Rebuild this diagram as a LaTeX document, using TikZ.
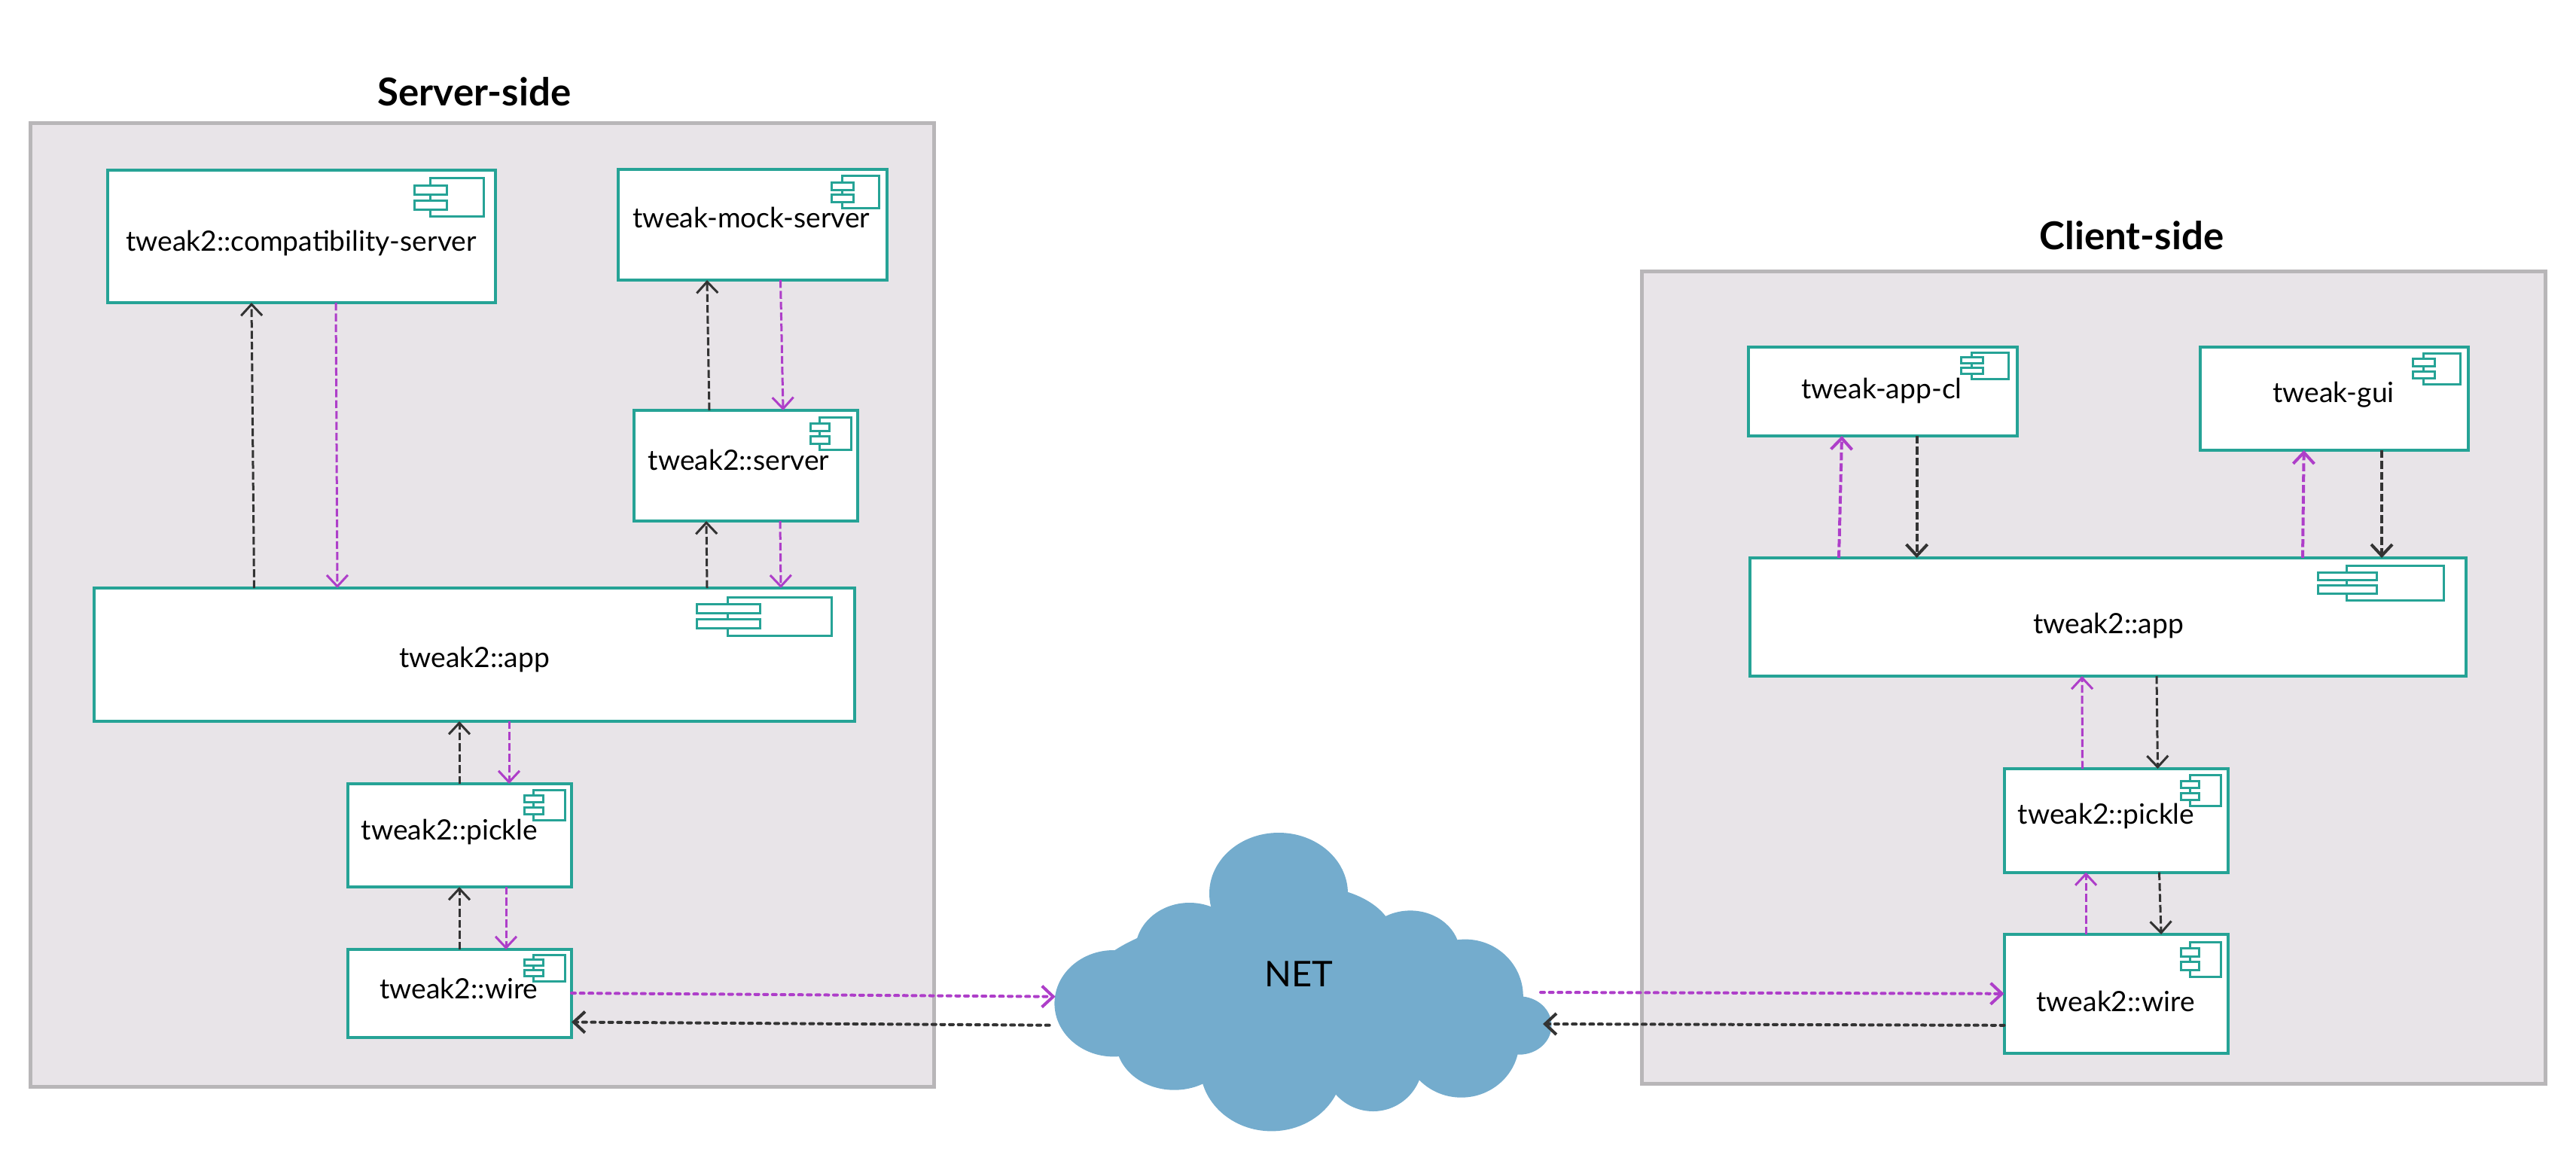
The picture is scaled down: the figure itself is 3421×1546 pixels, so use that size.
\documentclass[tikz,border=0pt]{standalone}
\usepackage{fontspec}
\setmainfont{Lato}
\usepackage{xcolor}
\definecolor{ColTeal}{RGB}{38,163,150}
\definecolor{ColPurple}{RGB}{174,62,201}
\definecolor{ColDark}{RGB}{51,51,51}
\definecolor{ColFrame}{RGB}{232,228,232}
\definecolor{ColBorder}{RGB}{184,182,184}
\definecolor{ColCloud}{RGB}{116,172,205}
\usetikzlibrary{arrows.meta}
\tikzstyle{Frame}=[rectangle,draw=ColBorder,fill=ColFrame,line width=2.5pt,outer sep=0pt]
\tikzstyle{Title}=[anchor=base,font=\fontsize{25.5}{30}\selectfont\bfseries]
\tikzstyle{CompBox}=[rectangle,draw=ColTeal,fill=white,line width=2pt,outer sep=0pt]
\tikzstyle{CompText}=[anchor=base,inner sep=0pt,font=\fontsize{18.6}{22}\selectfont]
\tikzstyle{NetText}=[anchor=base,inner sep=0pt,font=\fontsize{23.5}{28}\selectfont]
\tikzstyle{Edge}=[line width=1.5pt,dash pattern=on 5.2pt off 2pt,
    -{Straight Barb[length=7.5pt,width=14pt]}]
\tikzstyle{EdgeBlack}=[Edge,draw=ColDark]
\tikzstyle{EdgePurple}=[Edge,draw=ColPurple]
\tikzstyle{Link}=[line width=2pt,cap=round,dash pattern=on 2.5pt off 3.3pt,
    -{Straight Barb[length=7.5pt,width=14pt]}]
\tikzstyle{LinkBlack}=[Link,draw=ColDark]
\tikzstyle{LinkPurple}=[Link,draw=ColPurple]
\tikzset{CompIcon/.pic={
    \draw[ColTeal,line width=1.5pt](.23,0)rectangle(1,1);
    \draw[ColTeal,line width=1.5pt,fill=white](0,.19)rectangle(.47,.42);
    \draw[ColTeal,line width=1.5pt,fill=white](0,.58)rectangle(.47,.81);
}}
\begin{document}
\begin{tikzpicture}[x=.5pt,y=-.5pt]
    \useasboundingbox(0,0)rectangle(3421,1546);
    % server side
    \node[Frame,minimum width=600pt,minimum height=639.5pt](ServerFrame)at(640,803.5){};
    \node[Title](ServerTitle)at(630,141){Server-side};
    \node[CompBox,minimum width=257.25pt,minimum height=88.2pt](Compat)at(400.25,313.8){};
    \node[CompBox,minimum width=178.5pt,minimum height=73.5pt](Mock)at(999.5,298.5){};
    \node[CompBox,minimum width=148.25pt,minimum height=73.5pt](Server)at(990.25,618.5){};
    \node[CompBox,minimum width=505pt,minimum height=88.5pt](App)at(630,869.5){};
    \node[CompBox,minimum width=148.5pt,minimum height=68.5pt](Pickle)at(610.5,1109.5){};
    \node[CompBox,minimum width=148.5pt,minimum height=58.5pt](Wire)at(610.5,1319.5){};
    \pic[xscale=92,yscale=51.5]at(550,236.5){CompIcon};
    \pic[xscale=63,yscale=43]at(1104,234){CompIcon};
    \pic[xscale=54,yscale=43]at(1076,554.6){CompIcon};
    \pic[xscale=179,yscale=51]at(925,793){CompIcon};
    \pic[xscale=53.5,yscale=40.4]at(696.5,1049){CompIcon};
    \pic[xscale=53.5,yscale=35]at(696.5,1268){CompIcon};
    \node[CompText](CompatText)at(400,333){tweak2::compatibility-server};
    \node[CompText](MockText)at(998,303){tweak-mock-server};
    \node[CompText](ServerText)at(981,624){tweak2::server};
    \node[CompText](AppText)at(630,886.5){tweak2::app};
    \node[CompText](PickleText)at(597,1115){tweak2::pickle};
    \node[CompText](WireText)at(609.5,1326){tweak2::wire};
    % client side
    \node[Frame,minimum width=600.25pt,minimum height=539.75pt](ClientFrame)at(2780.25,899.75){};
    \node[Title](ClientTitle)at(2831,331){Client-side};
    \node[CompBox,minimum width=178.25pt,minimum height=59pt](AppCl)at(2500.25,520){};
    \node[CompBox,minimum width=178.2pt,minimum height=68.5pt](Gui)at(3099.8,529.5){};
    \node[CompBox,minimum width=475.5pt,minimum height=78.5pt](ClientApp)at(2799.5,819.5){};
    \node[CompBox,minimum width=148.5pt,minimum height=68.8pt](ClientPickle)at(2810,1089.8){};
    \node[CompBox,minimum width=148.5pt,minimum height=78.8pt](ClientWire)at(2810,1319.8){};
    \pic[xscale=63,yscale=35]at(2604,468){CompIcon};
    \pic[xscale=63,yscale=41.6]at(3204,469){CompIcon};
    \pic[xscale=167,yscale=45.6]at(3078,751.4){CompIcon};
    \pic[xscale=53,yscale=40.4]at(2896,1029.6){CompIcon};
    \pic[xscale=53,yscale=46]at(2896,1251){CompIcon};
    \node[CompText](AppClText)at(2499,529){tweak-app-cl};
    \node[CompText](GuiText)at(3099,534){tweak-gui};
    \node[CompText](ClientAppText)at(2800,841){tweak2::app};
    \node[CompText](ClientPickleText)at(2797,1094){tweak2::pickle};
    \node[CompText](ClientWireText)at(2809.5,1343){tweak2::wire};
    % cloud
    \foreach \cx/\cy/\rx/\ry in {1479/1332.7/78.6/70.7,1579.6/1263/72/64,1698/1186.7/92/80.7,
        1736.3/1246.7/114.8/70,1872.9/1266.7/66/57.3,1945.8/1323.3/77/75.7,
        2017.5/1362/43/38.7,1940.6/1383/77/74.7,1823.5/1410/66/66,
        1688.6/1416.7/94.7/85.7,1559.5/1383/77.5/64.7,1710/1320/270/110}
        \fill[ColCloud](\cx,\cy)ellipse[x radius=\rx,y radius=\ry];
    \node[NetText](Net)at(1725,1310.7){NET};
    \coordinate(NetWestIn)at(1401.6,1323.7);
    \coordinate(NetWestOut)at(1393.6,1361.7);
    \coordinate(NetEastIn)at(2049,1360);
    \coordinate(NetEastOut)at(2046,1318);
    % server edges
    \draw[EdgeBlack]([xshift=106.25pt]App.north west)--([xshift=95.5pt]Compat.south west);
    \draw[EdgePurple]([xshift=151.5pt]Compat.south west)--([xshift=161.5pt]App.north west);
    \draw[EdgeBlack]([xshift=50pt]Server.north west)--([xshift=59pt]Mock.south west);
    \draw[EdgePurple]([xshift=107.75pt]Mock.south west)--([xshift=99pt]Server.north west);
    \draw[EdgeBlack]([xshift=407pt]App.north west)--([xshift=48pt]Server.south west);
    \draw[EdgePurple]([xshift=97pt]Server.south west)--([xshift=456pt]App.north west);
    \draw[EdgeBlack]([xshift=74pt]Pickle.north west)--([xshift=242.5pt]App.south west);
    \draw[EdgePurple]([xshift=275.5pt]App.south west)--([xshift=107pt]Pickle.north west);
    \draw[EdgeBlack]([xshift=74pt]Wire.north west)--([xshift=74pt]Pickle.south west);
    \draw[EdgePurple]([xshift=105pt]Pickle.south west)--([xshift=105pt]Wire.north west);
    % client edges
    \draw[EdgePurple,line width=2pt]([xshift=59pt]ClientApp.north west)--([xshift=62pt]AppCl.south west);
    \draw[EdgeBlack,line width=2pt]([xshift=111.8pt]AppCl.south west)--([xshift=110.8pt]ClientApp.north west);
    \draw[EdgePurple,line width=2pt]([xshift=367pt]ClientApp.north west)--([xshift=69pt]Gui.south west);
    \draw[EdgeBlack,line width=2pt]([xshift=120.7pt]Gui.south west)--([xshift=419.5pt]ClientApp.north west);
    \draw[EdgePurple]([xshift=52pt]ClientPickle.north west)--([xshift=220.5pt]ClientApp.south west);
    \draw[EdgeBlack]([xshift=270pt]ClientApp.south west)--([xshift=102pt]ClientPickle.north west);
    \draw[EdgePurple]([xshift=54.3pt]ClientWire.north west)--([xshift=54.3pt]ClientPickle.south west);
    \draw[EdgeBlack]([xshift=103pt]ClientPickle.south west)--([xshift=104.3pt]ClientWire.north west);
    % links over the net
    \draw[LinkPurple]([yshift=.25pt]Wire.east)--(NetWestIn);
    \draw[LinkBlack](NetWestOut)--([yshift=-19pt]Wire.east);
    \draw[LinkPurple](NetEastOut)--(ClientWire.west);
    \draw[LinkBlack]([yshift=-21pt]ClientWire.west)--(NetEastIn);
\end{tikzpicture}
\end{document}
